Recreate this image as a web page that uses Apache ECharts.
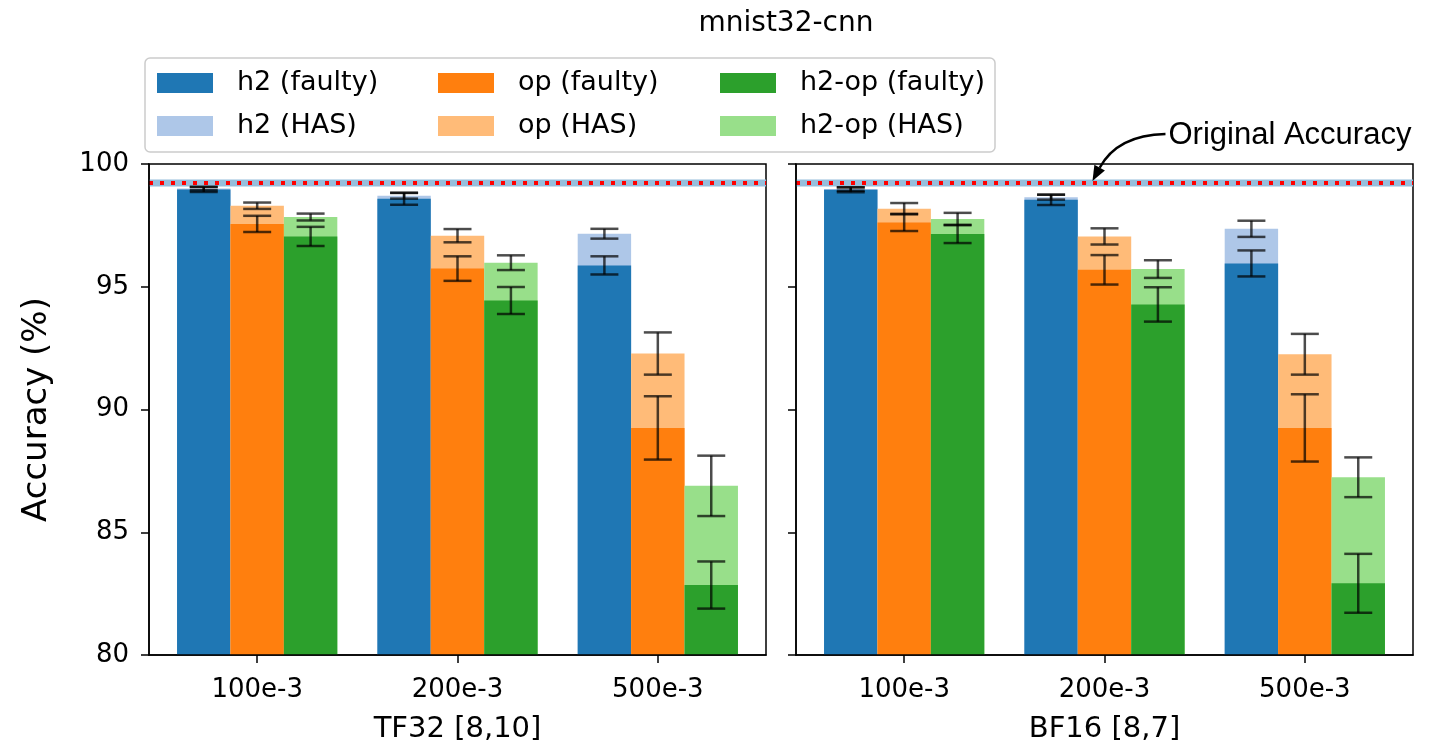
<!DOCTYPE html>
<html>
<head>
<meta charset="utf-8">
<script src="https://cdn.jsdelivr.net/npm/echarts@6/dist/echarts.min.js"></script>
<style>
  html, body { margin: 0; padding: 0; background: #fff; }
  #chart { width: 1440px; height: 743px; }
</style>
</head>
<body>
<div id="chart"></div>
<script>
const groups = ['100e-3', '200e-3', '500e-3'];
const methods = ['h2', 'op', 'h2-op'];
const panels = ['TF32 [8,10]', 'BF16 [8,7]'];
const yTicks = [80, 85, 90, 95, 100];
const originalAccuracy = 99.23;

// rows: h2, op, h2-op; columns: groups
const tf32Faulty = [[98.96, 98.58, 95.87], [97.56, 95.74, 89.25], [97.05, 94.44, 82.85]];
const tf32FaultyErr = [[0.1, 0.24, 0.37], [0.33, 0.5, 1.29], [0.39, 0.55, 0.96]];
const tf32Has = [[99.0, 98.71, 97.16], [98.3, 97.08, 92.28], [97.84, 95.98, 86.89]];
const tf32HasErr = [[0.07, 0.12, 0.2], [0.13, 0.27, 0.86], [0.14, 0.3, 1.23]];

const bf16Faulty = [[98.95, 98.54, 95.95], [97.62, 95.69, 89.25], [97.15, 94.28, 82.92]];
const bf16FaultyErr = [[0.1, 0.21, 0.53], [0.35, 0.6, 1.37], [0.37, 0.7, 1.2]];
const bf16Has = [[98.98, 98.65, 97.36], [98.18, 97.05, 92.25], [97.76, 95.72, 87.24]];
const bf16HasErr = [[0.07, 0.1, 0.33], [0.23, 0.33, 0.83], [0.25, 0.36, 0.81]];

const faultyColors = ['#1f77b4', '#ff7f0e', '#2ca02c'];
const hasColors = ['#aec7e8', '#ffbb78', '#98df8a'];
const font = 'DejaVu Sans';
const barW = 0.8 / 3;
const offsets = [-barW, 0, barW];
const xMin = -0.54, xMax = 2.54;

const chart = echarts.init(document.getElementById('chart'), null, { renderer: 'canvas' });

const barRender = (params, api) => {
    const x = api.value(0);
    const v = api.value(1);
    const tl = api.coord([x - barW / 2, v]);
    const br = api.coord([x + barW / 2, 80]);
    return {
        type: 'rect',
        shape: { x: tl[0], y: tl[1], width: br[0] - tl[0], height: br[1] - tl[1] },
        style: { fill: api.visual('color') },
    };
};

const errRender = (params, api) => {
    const x = api.value(0);
    const v = api.value(1);
    const e = api.value(2);
    const top = api.coord([x, v + e]);
    const bot = api.coord([x, v - e]);
    const cap = 14;
    const style = { stroke: 'rgba(0,0,0,0.7)', lineWidth: 2.5 };
    return {
        type: 'group',
        children: [
            { type: 'line', shape: { x1: top[0], y1: top[1], x2: bot[0], y2: bot[1] }, style },
            { type: 'line', shape: { x1: top[0] - cap, y1: top[1], x2: top[0] + cap, y2: top[1] }, style },
            { type: 'line', shape: { x1: bot[0] - cap, y1: bot[1], x2: bot[0] + cap, y2: bot[1] }, style },
        ],
    };
};

const panelData = [
    { faulty: tf32Faulty, faultyErr: tf32FaultyErr, has: tf32Has, hasErr: tf32HasErr },
    { faulty: bf16Faulty, faultyErr: bf16FaultyErr, has: bf16Has, hasErr: bf16HasErr },
];

const series = [];
panelData.forEach((pd, p) => {
    series.push({
        type: 'line', xAxisIndex: p, yAxisIndex: p, silent: true, showSymbol: false, z: 3,
        data: [[xMin, originalAccuracy], [xMax, originalAccuracy]],
        lineStyle: { color: '#96bedc', width: 7 },
    });
    series.push({
        type: 'line', xAxisIndex: p, yAxisIndex: p, silent: true, showSymbol: false, z: 3,
        data: [[xMin, originalAccuracy], [xMax, originalAccuracy]],
        lineStyle: { color: '#ff0000', width: 4, type: [4, 7], cap: 'butt' },
    });
    methods.forEach((m, k) => {
        series.push({
            name: m + ' (HAS)', type: 'custom', xAxisIndex: p, yAxisIndex: p, z: 2, clip: true,
            itemStyle: { color: hasColors[k] },
            renderItem: barRender,
            data: groups.map((g, i) => [i + offsets[k], pd.has[k][i]]),
        });
        series.push({
            name: m + ' (faulty)', type: 'custom', xAxisIndex: p, yAxisIndex: p, z: 2, clip: true,
            itemStyle: { color: faultyColors[k] },
            renderItem: barRender,
            data: groups.map((g, i) => [i + offsets[k], pd.faulty[k][i]]),
        });
    });
    methods.forEach((m, k) => {
        series.push({
            type: 'custom', xAxisIndex: p, yAxisIndex: p, z: 5, silent: true,
            renderItem: errRender,
            data: groups.map((g, i) => [i + offsets[k], pd.has[k][i], pd.hasErr[k][i]]),
        });
        series.push({
            type: 'custom', xAxisIndex: p, yAxisIndex: p, z: 5, silent: true,
            renderItem: errRender,
            data: groups.map((g, i) => [i + offsets[k], pd.faulty[k][i], pd.faultyErr[k][i]]),
        });
    });
});

const legendCols = [157, 438, 720];
const legendRows = [68, 111];
const legends = [];
['faulty', 'HAS'].forEach((kind, r) => {
    methods.forEach((m, c) => {
        legends.push({
            data: [m + ' (' + kind + ')'],
            left: legendCols[c], top: legendRows[r],
            padding: 0, icon: 'rect', itemWidth: 56, itemHeight: 20,
            selectedMode: false,
            textStyle: { fontFamily: font, fontSize: 27, color: '#000', lineHeight: 30, padding: [0, 0, 0, 19] },
        });
    });
});

const grids = [
    { left: 149, top: 164, width: 617, height: 491 },
    { left: 796, top: 164, width: 617, height: 491 },
].map(g => ({ ...g, show: true, borderColor: '#000', borderWidth: 1.5, containLabel: false, outerBoundsMode: 'none' }));

const xAxes = panels.map((name, p) => ({
    type: 'value', gridIndex: p, min: xMin, max: xMax, z: 10,
    name, nameLocation: 'middle', nameGap: 60,
    nameTextStyle: { fontFamily: font, fontSize: 29, color: '#000' },
    axisLine: { show: true, onZero: false, lineStyle: { color: '#000', width: 1.5 } },
    axisTick: { show: true, inside: false, length: 8, customValues: [0, 1, 2], lineStyle: { color: '#000', width: 1.5 } },
    axisLabel: {
        customValues: [0, 1, 2], margin: 22,
        formatter: v => groups[Math.round(v)] || '',
        fontFamily: font, fontSize: 26, color: '#000',
    },
    splitLine: { show: false },
}));

const yAxes = panels.map((name, p) => ({
    type: 'value', gridIndex: p, min: 80, max: 100, interval: 5, z: 10,
    name: p === 0 ? 'Accuracy (%)' : '', nameLocation: 'middle', nameGap: 95, nameRotate: 90,
    nameTextStyle: { fontFamily: font, fontSize: 34, color: '#000' },
    axisLine: { show: true, onZero: false, lineStyle: { color: '#000', width: 1.5 } },
    axisTick: { show: true, inside: false, length: 8, lineStyle: { color: '#000', width: 1.5 } },
    axisLabel: {
        show: p === 0, margin: 20, fontFamily: font, fontSize: 26, color: '#000',
        customValues: yTicks,
    },
    splitLine: { show: false },
}));

chart.setOption({
    animation: false,
    backgroundColor: '#fff',
    title: {
        text: 'mnist32-cnn', left: 781, top: 5, textAlign: 'center',
        textStyle: { fontFamily: font, fontSize: 28, fontWeight: 'normal', color: '#000' },
    },
    legend: legends,
    grid: grids,
    xAxis: xAxes,
    yAxis: yAxes,
    series,
});

// legend frame and "Original Accuracy" annotation
const tip = chart.convertToPixel({ gridIndex: 1 }, [0.94, originalAccuracy]);
const E = [tip[0], tip[1] - 2];
const S = [E[0] + 73, E[1] - 47];
const C = [E[0] + 25, E[1] - 46];
const dx = E[0] - C[0], dy = E[1] - C[1];
const len = Math.hypot(dx, dy);
const d = [dx / len, dy / len];
const nrm = [-d[1], d[0]];
const headL = 15, headW = 6;
const B = [E[0] - d[0] * headL, E[1] - d[1] * headL];

chart.setOption({
    graphic: [
        {
            type: 'rect', z: -1, silent: true,
            shape: { x: 145, y: 58, width: 850, height: 94, r: 5 },
            style: { fill: 'rgba(255,255,255,0.8)', stroke: '#cccccc', lineWidth: 1.5 },
        },
        {
            type: 'bezierCurve', silent: true, z: 20,
            shape: { x1: S[0], y1: S[1], cpx1: C[0], cpy1: C[1], x2: B[0], y2: B[1] },
            style: { stroke: '#000', lineWidth: 2.5, fill: null },
        },
        {
            type: 'polygon', silent: true, z: 20,
            shape: { points: [E, [B[0] + nrm[0] * headW, B[1] + nrm[1] * headW], [B[0] - nrm[0] * headW, B[1] - nrm[1] * headW]] },
            style: { fill: '#000' },
        },
        {
            type: 'text', silent: true, z: 20,
            x: S[0] + 3, y: S[1] + 2,
            style: {
                text: 'Original Accuracy', fontFamily: 'Liberation Sans', fontSize: 31,
                fill: '#000', textVerticalAlign: 'middle', textAlign: 'left',
            },
        },
    ],
});
</script>
</body>
</html>
